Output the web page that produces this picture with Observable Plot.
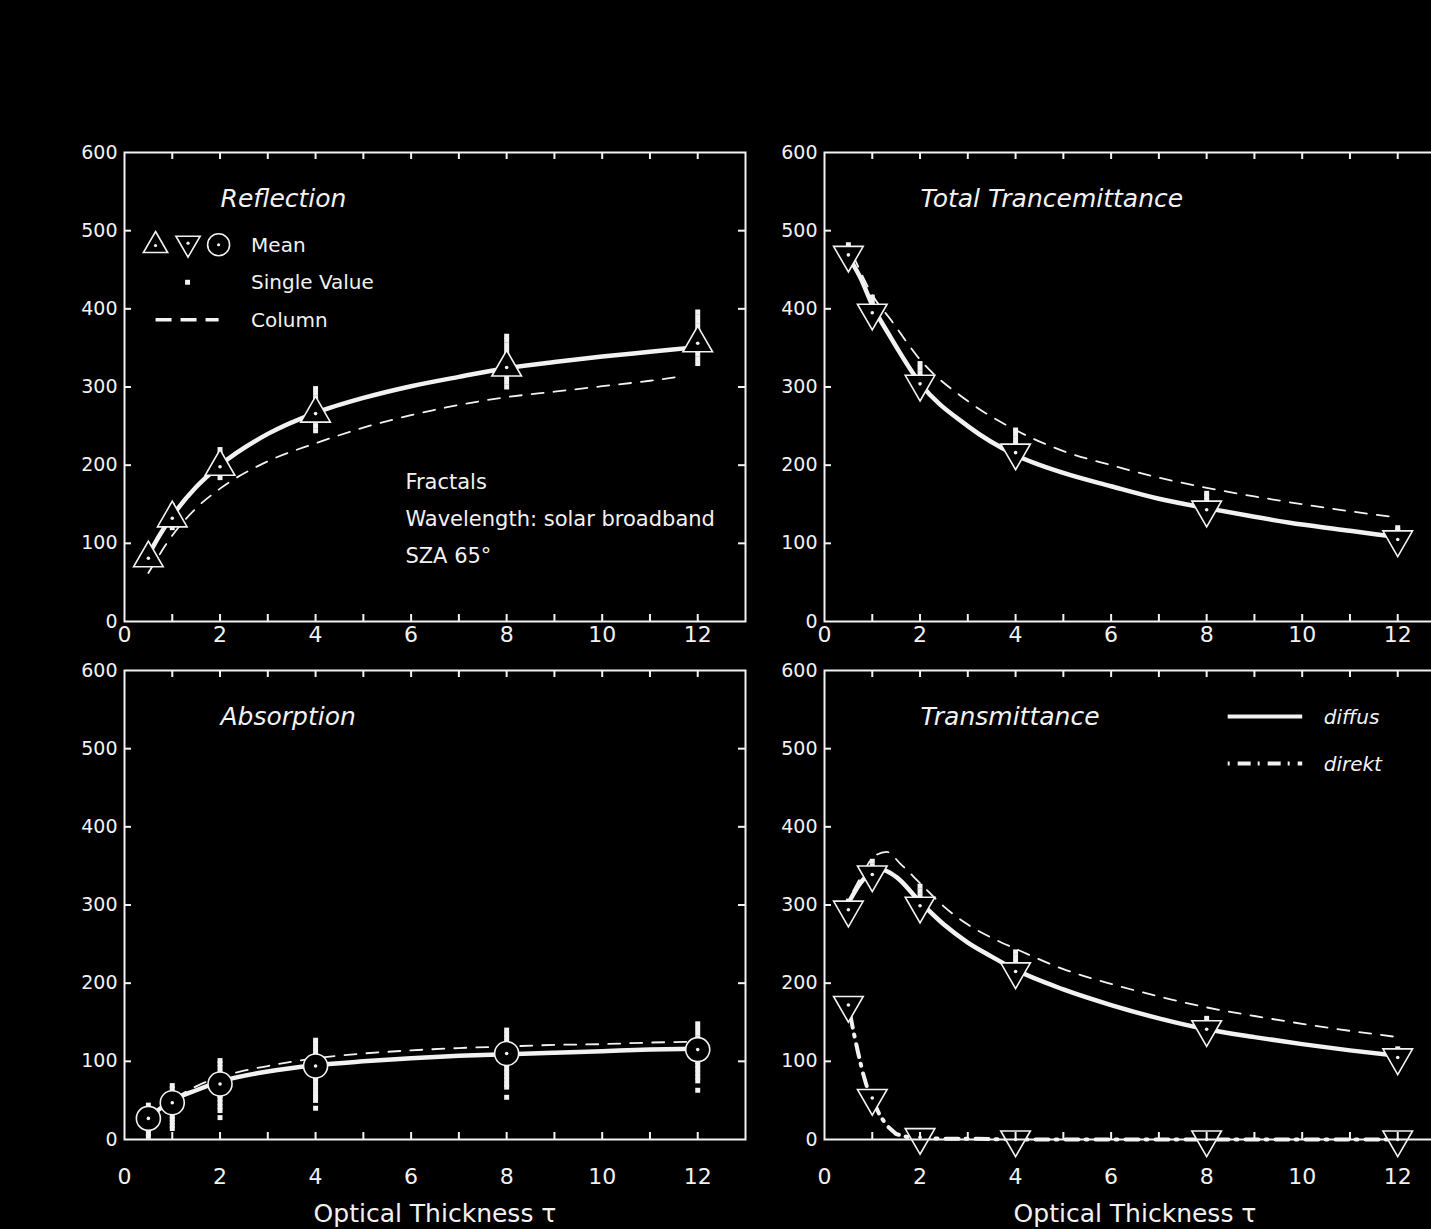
<!DOCTYPE html>
<html><head><meta charset="utf-8">
<script src="https://cdn.jsdelivr.net/npm/d3@7"></script>
<script src="https://cdn.jsdelivr.net/npm/@observablehq/plot@0.6"></script>
<style>
html,body{margin:0;padding:0;background:#000;width:1431px;height:1229px;overflow:hidden;}
#root{position:relative;width:1431px;height:1229px;background:#000;overflow:hidden;}
.panel{position:absolute;}
.panel svg{max-width:none !important;}
#ylab{position:absolute;left:35px;top:608px;transform:translate(-50%,-50%) rotate(-90deg);white-space:nowrap;font-family:"DejaVu Sans";font-size:22px;letter-spacing:1.5px;color:#f0f0f0;}
#ylab sup{font-size:15px;letter-spacing:0;}
</style></head>
<body><div id="root"><div id="ylab">Radiant Flux Density [Wm<sup>−2</sup>]</div></div>
<script>
// ---------- axes ----------
const xMinorTicks = [1,2,3,4,5,6,7,8,9,10,11,12];
const xTickLabels = [0,2,4,6,8,10,12];
const yMinorTicks = [100,200,300,400,500];
const yTickLabels = [0,100,200,300,400,500,600];

// ---------- optical thickness of the experiments ----------
const tau = [0.5, 1, 2, 4, 8, 12];

// ---------- Reflection ----------
const reflMean = [81, 132, 198, 266, 325, 356];
const reflSingle = [
  [74,78,82,86,90],
  [120,125,130,136,142,148],
  [184,190,196,202,208,214,220],
  [244,250,256,262,268,274,280,286,292,298],
  [300,306,312,318,324,330,336,342,348,354,360,365],
  [330,336,342,348,354,360,366,372,378,384,390,396]
];
const reflFitTau = [0.5,0.75,1,1.5,2,3,4,5,6,7,8,9,10,11,12];
const reflFit    = [85,112,135,172,200,240,267,286,301,313,324,332,339,345,351];
const reflColTau = [0.5,1,1.5,2,3,4,5,6,7,8,9,10,11,11.7];
const reflCol    = [62,110,145,170,205,228,248,264,277,287,294,301,308,314];

// ---------- Total Transmittance ----------
const ttMean = [469, 395, 304, 216, 143, 105];
const ttSingle = [
  [470,476,482],
  [400,405,410,415],
  [300,306,312,318,324,330],
  [210,216,222,228,234,240,245],
  [140,145,150,155,160,164],
  [104,108,112,116,120]
];
const ttFitTau = [0.55,0.75,1,1.4,2,3,4,5,6,7,8,9,10,11,12];
const ttFit    = [462,440,405,362,305,250,213,190,173,157,145,134,124,116,108];
const ttColTau = [0.6,1,1.4,2,3,4,5,6,7,8,9,10,11,12];
const ttCol    = [468,418,385,335,282,245,218,200,184,171,160,150,141,133];

// ---------- Absorption ----------
const absMean = [27, 47, 71, 94, 110, 115];
const absSingle = [
  [4,8,12,16,20,25,30,35,40,44],
  [14,18,22,26,30,35,40,45,50,55,60,65,69],
  [28,37,42,47,52,56,62,68,74,80,86,92,97,101],
  [40,50,54,58,63,68,73,78,84,90,96,102,108,113,118,123,127],
  [54,67,71,76,81,86,91,96,102,108,114,120,125,130,135,140],
  [63,75,80,85,90,95,100,106,112,118,124,130,136,142,148]
];
const absFitTau = [0.5,1,1.5,2,3,4,5,6,7,8,9,10,11,12];
const absFit    = [28,50,63,74,87,95,100,104,107,109,111,113,115,116];
const absColTau = [0.7,1,1.5,2,2.5,3,4,5,6,7,8,9,10,11,11.8];
const absCol    = [36,50,68,80,88,94,104,110,114,117,119,121,122,124,125];

// ---------- Transmittance: diffus / direkt ----------
const diffMean = [294, 339, 299, 215, 141, 105];
const diffSingle = [
  [290,295,300,305],
  [335,340,345,350,356],
  [295,300,306,312,318,324],
  [210,216,222,228,234,240],
  [140,145,150,155],
  [104,108,112,116]
];
const diffFitTau = [0.55,0.75,1,1.2,1.5,2,2.5,3,3.5,4,5,6,7,8,9,10,11,12];
const diffFit    = [308,328,342,345,336,304,275,252,234,217,192,172,155,141,131,122,114,107];
const diffColTau = [0.6,0.8,1,1.3,1.6,2,2.5,3,3.5,4,5,6,7,8,9,10,11,12];
const diffCol    = [318,340,360,368,352,328,298,275,258,244,218,199,183,169,158,148,139,131];
const dirMean = [172, 53, 3, 0, 0, 0];
const dirSingle = [[168,174],[50,56],[0,3,6],[0,2],[0,2],[0,2]];
const dirFitTau = [0.5,0.6,0.7,0.8,0.9,1,1.15,1.3,1.5,1.75,2,2.5,3,4,6,8,10,12];
const dirFit    = [172,140,112,86,65,52,32,18,7,3,2,1,1,0,0,0,0,0];

// ---------- drawing ----------
const FG = "#f2f2f2";
const FONT = "DejaVu Sans";
const FW = 621, FH = 469; // frame size in px

const pts = (xs, ys) => xs.map((x, i) => ({x, y: ys[i]}));
const singles = (lists) => tau.flatMap((t, i) => lists[i].map(v => ({x: t, y: v})));

const triDown = {
  draw(ctx, size) {
    const y = Math.sqrt(size / (3 * Math.sqrt(3)));
    const x = Math.sqrt(3) * y;
    ctx.moveTo(0, 2 * y); ctx.lineTo(x, -y); ctx.lineTo(-x, -y); ctx.closePath();
  }
};

function frameMarks(xPad) {
  return [
    Plot.ruleX(xMinorTicks, {insetTop: FH - 7, stroke: FG, strokeWidth: 2}),
    Plot.ruleX(xMinorTicks, {insetBottom: FH - 7, stroke: FG, strokeWidth: 2}),
    Plot.ruleY(yMinorTicks, {insetRight: FW - 7, stroke: FG, strokeWidth: 2}),
    Plot.ruleY(yMinorTicks, {insetLeft: FW - 7, stroke: FG, strokeWidth: 2}),
    Plot.frame({stroke: FG, strokeWidth: 2}),
    Plot.axisX(xTickLabels, {anchor: "bottom", tickSize: 0, tickPadding: xPad, fontSize: 22, label: null, fontFamily: FONT}),
    Plot.axisY(yTickLabels, {anchor: "left", tickSize: 0, tickPadding: 7, fontSize: 19, label: null, fontFamily: FONT})
  ];
}

function fitLine(xs, ys, opts = {}) {
  return Plot.line(pts(xs, ys), {x: "x", y: "y", curve: "monotone-x", stroke: FG, strokeWidth: 4.5, ...opts});
}
function colLine(xs, ys) {
  return Plot.line(pts(xs, ys), {x: "x", y: "y", curve: "monotone-x", stroke: FG, strokeWidth: 1.8, strokeDasharray: "12,10"});
}
function singleDots(lists) {
  return Plot.dot(singles(lists), {x: "x", y: "y", symbol: "square", r: 2.8, fill: FG, stroke: "none"});
}
function meanMarks(vals, symbol, r) {
  return [
    Plot.dot(pts(tau, vals), {x: "x", y: "y", symbol, r, fill: "#000", stroke: FG, strokeWidth: 1.6}),
    Plot.dot(pts(tau, vals), {x: "x", y: "y", r: 1.8, fill: FG, stroke: "none"})
  ];
}
function title(txt) {
  return Plot.text([txt], {x: 2.01, y: 541, textAnchor: "start", lineAnchor: "middle", fontSize: 25, fontStyle: "italic", fontFamily: FONT, fill: FG});
}
function xLabel() {
  return Plot.text(["Optical Thickness τ"], {frameAnchor: "bottom", dy: 74, lineAnchor: "middle", fontSize: 25, fontFamily: FONT, fill: FG});
}

function makePanel(cfg) {
  const svg = Plot.plot({
    width: cfg.width, height: cfg.height,
    marginLeft: cfg.ml, marginRight: cfg.mr, marginTop: cfg.mt, marginBottom: cfg.mb,
    x: {domain: [0, 13]},
    y: {domain: [0, 600]},
    style: {background: "#000", color: FG, fontFamily: FONT, overflow: "visible", maxWidth: "none"},
    marks: cfg.marks
  });
  svg.setAttribute("width", cfg.width);
  svg.setAttribute("height", cfg.height);
  svg.style.width = cfg.width + "px";
  svg.style.height = cfg.height + "px";
  const div = document.createElement("div");
  div.className = "panel";
  div.style.left = cfg.left + "px";
  div.style.top = cfg.top + "px";
  div.style.width = cfg.width + "px";
  div.style.height = cfg.height + "px";
  div.appendChild(svg);
  document.getElementById("root").appendChild(div);
}

// Reflection (top-left)
makePanel({
  left: 0, top: 0, width: 780, height: 660, ml: 124, mr: 35, mt: 152, mb: 39,
  marks: [
    colLine(reflColTau, reflCol),
    fitLine(reflFitTau, reflFit),
    singleDots(reflSingle),
    ...meanMarks(reflMean, "triangle", 11),
    title("Reflection"),
    // legend
    Plot.dot([0], {x: 0.65, y: 481, symbol: "triangle", r: 9, fill: "#000", stroke: FG, strokeWidth: 1.6}),
    Plot.dot([0], {x: 1.33, y: 484, symbol: triDown, r: 9, fill: "#000", stroke: FG, strokeWidth: 1.6}),
    Plot.dot([0], {x: 1.97, y: 482, r: 11, fill: "#000", stroke: FG, strokeWidth: 1.6}),
    Plot.dot([0.65, 1.33, 1.97], {x: d => d, y: [481, 484, 482], r: 1.6, fill: FG}),
    Plot.dot([0], {x: 1.32, y: 434, symbol: "square", r: 2.8, fill: FG}),
    Plot.link([0], {x1: 0.65, x2: 1.97, y1: 386, y2: 386, stroke: FG, strokeWidth: 3.5, strokeDasharray: "16,9"}),
    Plot.text(["Mean", "Single Value", "Column"], {x: 2.65, y: [481, 434, 385], textAnchor: "start", lineAnchor: "middle", fontSize: 20, fontFamily: FONT, fill: FG}),
    Plot.text(["Fractals", "Wavelength: solar broadband", "SZA 65°"], {x: 5.88, y: [178, 131, 84], textAnchor: "start", lineAnchor: "middle", fontSize: 21, fontFamily: FONT, fill: FG}),
    ...frameMarks(5)
  ]
});

// Total Transmittance (top-right)
makePanel({
  left: 780, top: 0, width: 680, height: 660, ml: 44, mr: 15, mt: 152, mb: 39,
  marks: [
    colLine(ttColTau, ttCol),
    fitLine(ttFitTau, ttFit),
    singleDots(ttSingle),
    ...meanMarks(ttMean, triDown, 11),
    title("Total Trancemittance"),
    ...frameMarks(5)
  ]
});

// Absorption (bottom-left)
makePanel({
  left: 0, top: 660, width: 780, height: 569, ml: 124, mr: 35, mt: 10, mb: 90,
  marks: [
    colLine(absColTau, absCol),
    fitLine(absFitTau, absFit),
    singleDots(absSingle),
    ...meanMarks(absMean, "circle", 12),
    title("Absorption"),
    xLabel(),
    ...frameMarks(29)
  ]
});

// Transmittance (bottom-right)
makePanel({
  left: 780, top: 660, width: 680, height: 569, ml: 44, mr: 15, mt: 10, mb: 90,
  marks: [
    colLine(diffColTau, diffCol),
    fitLine(diffFitTau, diffFit),
    fitLine(dirFitTau, dirFit, {strokeWidth: 4, strokeDasharray: "2,8,13,7", curve: "linear"}),
    singleDots(diffSingle),
    singleDots(dirSingle),
    ...meanMarks(diffMean, triDown, 11),
    ...meanMarks(dirMean, triDown, 11),
    title("Transmittance"),
    // legend
    Plot.link([0], {x1: 8.44, x2: 10.0, y1: 541, y2: 541, stroke: FG, strokeWidth: 4}),
    Plot.link([0], {x1: 8.44, x2: 10.0, y1: 481, y2: 481, stroke: FG, strokeWidth: 4, strokeDasharray: "2,8,13,7"}),
    Plot.text(["diffus", "direkt"], {x: 10.45, y: [540, 480], textAnchor: "start", lineAnchor: "middle", fontSize: 20, fontStyle: "italic", fontFamily: FONT, fill: FG}),
    xLabel(),
    ...frameMarks(29)
  ]
});
</script>
</body></html>
